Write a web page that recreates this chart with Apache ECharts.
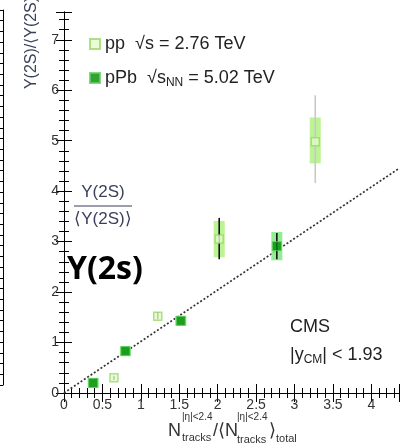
<!DOCTYPE html>
<html><head><meta charset="utf-8">
<script src="https://cdn.jsdelivr.net/npm/echarts@6/dist/echarts.min.js"></script>
<style>html,body{margin:0;padding:0;background:#fff}#c{width:402px;height:448px}</style>
</head><body><div id="c"></div>
<script>
// ---- data ----
const ppX = [0.65, 1.22, 2.02, 3.27];
const ppY = [0.30, 1.52, 3.05, 4.98];
const ppStatLo = [0.26, 1.46, 2.65, 4.16];
const ppStatHi = [0.34, 1.60, 3.47, 5.90];
const ppSysLo = [0.30, 1.52, 2.69, 4.55];
const ppSysHi = [0.30, 1.52, 3.41, 5.46];
const pPbX = [0.38, 0.80, 1.52, 2.77];
const pPbY = [0.20, 0.83, 1.43, 2.91];
const pPbStatLo = [0.20, 0.83, 1.43, 2.65];
const pPbStatHi = [0.20, 0.83, 1.43, 3.17];
const pPbSysLo = [0.10, 0.73, 1.33, 2.63];
const pPbSysHi = [0.30, 0.93, 1.53, 3.19];
const fitLineX = [0, 4.36];
const fitLineY = [0, 4.45];
const xTickLabels = ['0', '0.5', '1', '1.5', '2', '2.5', '3', '3.5', '4'];
const yTickLabels = ['0', '1', '2', '3', '4', '5', '6', '7'];

const FONT = '"Liberation Sans", Arial, sans-serif';
const chart = echarts.init(document.getElementById('c'), null, {renderer: 'canvas'});

function rows(xs, ys, lo, hi) { return xs.map((x, i) => [x, ys[i], lo[i], hi[i]]); }

function boxRender(hw, fill, opacity) {
  return function (params, api) {
    if (api.value(3) - api.value(2) <= 0) return null;
    const a = api.coord([api.value(0) - hw, api.value(2)]);
    const b = api.coord([api.value(0) + hw, api.value(3)]);
    return {type: 'rect', shape: {x: a[0], y: b[1], width: b[0] - a[0], height: a[1] - b[1]},
      style: {fill: fill, opacity: opacity}};
  };
}
function barRender(color) {
  return function (params, api) {
    if (api.value(3) - api.value(2) <= 0) return null;
    const a = api.coord([api.value(0), api.value(2)]);
    const b = api.coord([api.value(0), api.value(3)]);
    return {type: 'line', shape: {x1: a[0], y1: a[1], x2: b[0], y2: b[1]},
      style: {stroke: color, lineWidth: 1.6}};
  };
}

const axisCommon = {
  axisLine: {show: true, lineStyle: {color: '#000', width: 1}},
  axisTick: {show: true, inside: true, length: 9, lineStyle: {color: '#000'}},
  minorTick: {show: true, splitNumber: 5, length: 5, lineStyle: {color: '#000'}},
  splitLine: {show: false}
};

const option = {
  animation: false,
  backgroundColor: '#fff',
  grid: [
    {left: 64, right: 2, top: 12, bottom: 55},
    {left: -40, width: 43, top: 10, height: 375}
  ],
  xAxis: [
    Object.assign({type: 'value', gridIndex: 0, min: 0, max: 4.36, interval: 0.5, position: 'bottom',
      axisLabel: {fontFamily: FONT, fontSize: 14, color: '#333', margin: 5,
        formatter: v => { const i = Math.round(v / 0.5); return Math.abs(v - i * 0.5) < 1e-6 && i < xTickLabels.length ? xTickLabels[i] : ''; }}}, axisCommon),
    Object.assign({type: 'value', gridIndex: 0, min: 0, max: 4.36, interval: 0.5, position: 'top',
      axisLabel: {show: false}}, axisCommon),
    {type: 'value', gridIndex: 1, show: false, min: 0, max: 1}
  ],
  yAxis: [
    Object.assign({type: 'value', gridIndex: 0, min: 0, max: 7.55, interval: 1, position: 'left',
      axisLabel: {fontFamily: FONT, fontSize: 14, color: '#333', margin: 5,
        formatter: v => yTickLabels[Math.round(v)] || ''}}, axisCommon,
      {axisTick: {show: true, inside: true, length: 8, lineStyle: {color: '#000'}}}),
    Object.assign({type: 'value', gridIndex: 0, min: 0, max: 7.55, interval: 1, position: 'right',
      axisLabel: {show: false}}, axisCommon,
      {axisTick: {show: true, inside: true, length: 8, lineStyle: {color: '#000'}}}),
    Object.assign({type: 'value', gridIndex: 1, min: 0, max: 7, interval: 1, position: 'right',
      axisLabel: {show: false}}, axisCommon)
  ],
  legend: {
    orient: 'vertical', left: 84, top: 28, itemWidth: 10, itemHeight: 10, itemGap: 12,
    data: ['pp', 'pPb'],
    textStyle: {fontFamily: FONT, fontSize: 18, color: '#222', lineHeight: 22,
      rich: {t: {fontFamily: FONT, fontSize: 18, color: '#222'},
             sub: {fontFamily: FONT, fontSize: 12, color: '#222', verticalAlign: 'bottom', padding: [9, 0, 0, 0]}}},
    formatter: name => name === 'pp' ? '{t|pp  √s = 2.76 TeV}' : '{t|pPb  √s}{sub|NN}{t| = 5.02 TeV}'
  },
  series: [
    {type: 'line', xAxisIndex: 0, yAxisIndex: 0, data: fitLineX.map((x, i) => [x, fitLineY[i]]),
      symbol: 'none', silent: true, lineStyle: {color: '#333', width: 1.7, type: [2, 2]}, z: 1},
    {type: 'custom', xAxisIndex: 0, yAxisIndex: 0, renderItem: boxRender(0.072, '#b5f28a', 0.9),
      data: rows(ppX, ppY, ppSysLo, ppSysHi), z: 2},
    {type: 'custom', xAxisIndex: 0, yAxisIndex: 0, renderItem: boxRender(0.072, '#8aea8a', 0.9),
      data: rows(pPbX, pPbY, pPbSysLo, pPbSysHi), z: 2},
    {type: 'custom', xAxisIndex: 0, yAxisIndex: 0, renderItem: function (params, api) {
        const col = api.value(0) > 3 ? '#c8c8c8' : '#111';
        return barRender(col)(params, api);
      }, data: rows(ppX, ppY, ppStatLo, ppStatHi), z: 3},
    {type: 'custom', xAxisIndex: 0, yAxisIndex: 0, renderItem: barRender('#111'),
      data: rows(pPbX, pPbY, pPbStatLo, pPbStatHi), z: 3},
    {name: 'pp', type: 'scatter', xAxisIndex: 0, yAxisIndex: 0, symbol: 'rect', symbolSize: 8,
      data: ppX.map((x, i) => [x, ppY[i]]),
      itemStyle: {color: '#e4fbcc', borderColor: '#9ad866', borderWidth: 1.5}, z: 4},
    {name: 'pPb', type: 'scatter', xAxisIndex: 0, yAxisIndex: 0, symbol: 'rect', symbolSize: 9,
      data: pPbX.map((x, i) => [x, pPbY[i]]),
      itemStyle: {color: '#008a00', borderColor: '#5fd05f', borderWidth: 1}, z: 4}
  ],
  graphic: [
    {type: 'text', x: 32, y: 40, rotation: Math.PI / 2, z: 10,
      style: {text: 'Υ(2S)/⟨Υ(2S)⟩', fontFamily: FONT, fontSize: 16, fill: '#3a3f5a', align: 'center', verticalAlign: 'middle'}},
    {type: 'text', x: 103, y: 192, z: 10,
      style: {text: 'Υ(2S)', fontFamily: FONT, fontSize: 17, fill: '#3a3f5a', align: 'center', verticalAlign: 'middle'}},
    {type: 'line', shape: {x1: 74, y1: 206, x2: 132, y2: 206}, style: {stroke: '#3a3f5a', lineWidth: 1.2}, z: 10},
    {type: 'text', x: 103, y: 219, z: 10,
      style: {text: '⟨Υ(2S)⟩', fontFamily: FONT, fontSize: 17, fill: '#3a3f5a', align: 'center', verticalAlign: 'middle'}},
    {type: 'text', x: 67, y: 270, z: 10,
      style: {text: 'Y(2s)', fontFamily: '"Open Sans", sans-serif', fontWeight: 'bold', fontSize: 32, fill: '#000', verticalAlign: 'middle'}},
    {type: 'text', x: 290, y: 327, z: 10,
      style: {text: 'CMS', fontFamily: FONT, fontSize: 18, fill: '#222', verticalAlign: 'middle'}},
    {type: 'text', x: 290, y: 355, z: 10,
      style: {text: '{t||y}{sub|CM}{t|| < 1.93}', fontFamily: FONT, fontSize: 18, fill: '#222', verticalAlign: 'middle',
        rich: {t: {fontFamily: FONT, fontSize: 18, fill: '#222'},
               sub: {fontFamily: FONT, fontSize: 12, fill: '#222', verticalAlign: 'bottom', padding: [10, 0, 0, 0]}}}},
    // x-axis title
    {type: 'text', x: 168, y: 431, z: 10, style: {text: 'N', fontFamily: FONT, fontSize: 18, fill: '#333', verticalAlign: 'middle'}},
    {type: 'text', x: 182, y: 417, z: 10, style: {text: '|η|<2.4', fontFamily: FONT, fontSize: 10, fill: '#333', verticalAlign: 'middle'}},
    {type: 'text', x: 182, y: 438, z: 10, style: {text: 'tracks', fontFamily: FONT, fontSize: 11, fill: '#333', verticalAlign: 'middle'}},
    {type: 'text', x: 213, y: 431, z: 10, style: {text: '/⟨N', fontFamily: FONT, fontSize: 18, fill: '#333', verticalAlign: 'middle'}},
    {type: 'text', x: 237, y: 417, z: 10, style: {text: '|η|<2.4', fontFamily: FONT, fontSize: 10, fill: '#333', verticalAlign: 'middle'}},
    {type: 'text', x: 237, y: 440, z: 10, style: {text: 'tracks', fontFamily: FONT, fontSize: 11, fill: '#333', verticalAlign: 'middle'}},
    {type: 'text', x: 269, y: 431, z: 10, style: {text: '⟩', fontFamily: FONT, fontSize: 18, fill: '#333', verticalAlign: 'middle'}},
    {type: 'text', x: 276, y: 439, z: 10, style: {text: 'total', fontFamily: FONT, fontSize: 11, fill: '#333', verticalAlign: 'middle'}}
  ]
};
chart.setOption(option);
</script></body></html>
